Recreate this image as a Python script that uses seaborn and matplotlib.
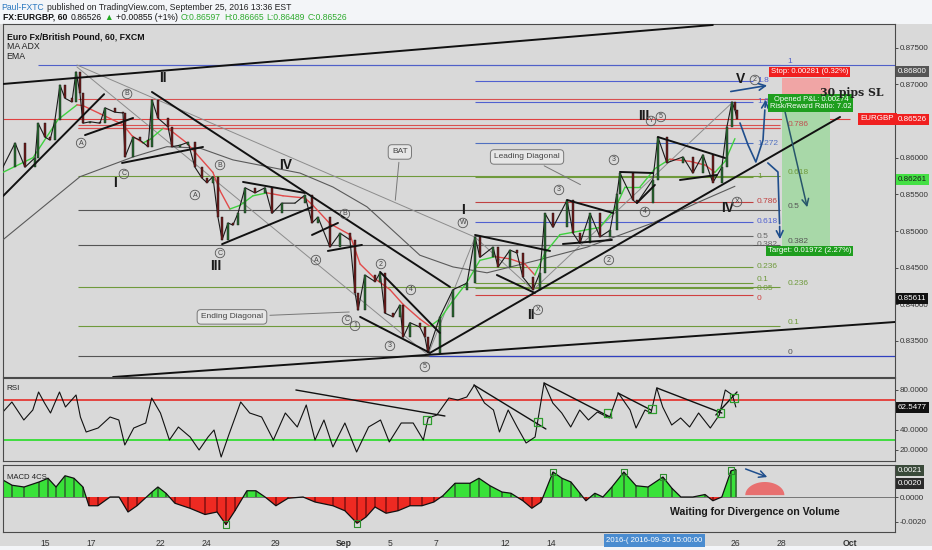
import matplotlib

matplotlib.use("Agg")

import matplotlib.pyplot as plt
import matplotlib.patches as mpatches
import matplotlib.ticker as mtick
import numpy as np
import pandas as pd
import seaborn as sns

price_day = [-1.83, -1.30, -0.87, -0.43, -0.30, 0.00, 0.22, 0.43, 0.65, 0.87, 1.17, 1.35, 1.52, 1.65, 1.96,
             2.39, 2.61, 3.04, 3.39, 3.48, 3.83, 4.13, 4.48, 4.65, 4.91, 5.35, 5.52, 5.87, 6.22, 6.52,
             6.83, 7.04, 7.30, 7.52, 7.70, 7.96, 8.17, 8.39, 8.70, 9.13, 9.57, 9.87, 10.30, 10.87, 11.30,
             11.61, 11.87, 12.39, 12.83, 13.26, 13.48, 13.61, 13.91, 14.35, 14.57, 14.78, 15.13, 15.43, 15.57,
             15.87, 16.30, 16.52, 16.65, 17.17, 17.74, 18.35, 18.70, 18.91, 19.48, 19.70, 20.22, 20.52, 20.78,
             21.22, 21.52, 21.74, 22.09, 22.70, 22.96, 23.26, 23.70, 24.13, 24.57, 24.87, 25.00, 25.57, 25.74,
             26.43, 26.65, 27.04, 27.74, 28.17, 28.61, 29.04, 29.43, 29.65, 29.87, 30.00, 30.09]
price_close = [0.8587, 0.8620, 0.8587, 0.8600, 0.8647, 0.8628, 0.8624, 0.8651, 0.8699, 0.8681, 0.8676, 0.8717,
               0.8688, 0.8647, 0.8649, 0.8647, 0.8668, 0.8662, 0.8661, 0.8601, 0.8628, 0.8624, 0.8615, 0.8679,
               0.8654, 0.8642, 0.8615, 0.8617, 0.8621, 0.8587, 0.8572, 0.8566, 0.8574, 0.8519, 0.8488, 0.8511,
               0.8508, 0.8524, 0.8559, 0.8552, 0.8559, 0.8524, 0.8538, 0.8538, 0.8549, 0.8511, 0.8519, 0.8478,
               0.8497, 0.8488, 0.8416, 0.8392, 0.8440, 0.8431, 0.8443, 0.8388, 0.8383, 0.8399, 0.8355, 0.8375,
               0.8369, 0.8355, 0.8334, 0.8383, 0.8420, 0.8429, 0.8492, 0.8464, 0.8478, 0.8451, 0.8474, 0.8470,
               0.8437, 0.8420, 0.8443, 0.8524, 0.8505, 0.8542, 0.8497, 0.8483, 0.8524, 0.8492, 0.8501, 0.8551,
               0.8579, 0.8542, 0.8538, 0.8570, 0.8628, 0.8593, 0.8601, 0.8579, 0.8604, 0.8566, 0.8587, 0.8642,
               0.8676, 0.8665, 0.8653]

ema_day = [-1.83, -0.52, 0.57, 1.39, 1.65, 2.39, 3.39, 3.78, 4.26, 4.57, 5.13, 5.43, 6.17, 7.30, 7.61, 8.04,
           8.48, 9.04, 9.65, 10.35, 11.30, 11.65, 12.39, 13.26, 13.70, 14.35, 15.00, 15.57, 16.30, 16.74,
           17.17, 17.74, 18.35, 18.91, 19.57, 20.22, 20.87, 21.30, 21.74, 22.39, 23.26, 24.13, 24.78, 25.22,
           25.87, 26.52, 27.17, 28.04, 28.70, 29.13, 29.57, 30.00]
ema_val = [0.8580, 0.8600, 0.8652, 0.8672, 0.8671, 0.8660, 0.8645, 0.8630, 0.8620, 0.8625, 0.8640, 0.8638,
           0.8620, 0.8580, 0.8555, 0.8530, 0.8535, 0.8548, 0.8552, 0.8548, 0.8545, 0.8535, 0.8510, 0.8495,
           0.8455, 0.8435, 0.8420, 0.8400, 0.8380, 0.8370, 0.8380, 0.8405, 0.8430, 0.8460, 0.8465, 0.8462,
           0.8455, 0.8440, 0.8470, 0.8495, 0.8500, 0.8505, 0.8530, 0.8560, 0.8560, 0.8585, 0.8598, 0.8595,
           0.8590, 0.8580, 0.8595, 0.8626]

ma_day = [-1.83, 1.52, 3.83, 5.30, 6.74, 8.17, 11.09, 12.52, 14.00, 15.43, 16.30, 17.74, 19.22, 21.39, 23.57,
          26.43, 28.61, 30.00]
ma_val = [0.8488, 0.8574, 0.8601, 0.8615, 0.8613, 0.8597, 0.8579, 0.8560, 0.8533, 0.8492, 0.8467, 0.8451,
          0.8443, 0.8460, 0.8478, 0.8511, 0.8542, 0.8561]

rsi_day = [-1.83, -1.44, -0.92, -0.53, -0.28, -0.02, 0.24, 0.63, 0.89, 1.35, 1.54, 1.79, 2.31, 2.83, 3.21,
           3.47, 3.86, 4.38, 4.64, 5.02, 5.41, 5.80, 6.31, 6.70, 7.09, 7.35, 7.66, 7.99, 8.51, 8.90, 9.42,
           9.93, 10.45, 10.97, 11.36, 11.74, 12.13, 12.52, 13.04, 13.55, 14.07, 14.59, 14.97, 15.49, 16.01,
           16.45, 16.66, 17.04, 17.56, 17.95, 18.34, 18.67, 19.11, 19.50, 19.76, 20.14, 20.53, 20.92, 21.31,
           21.70, 22.08, 22.47, 22.86, 23.25, 23.63, 24.02, 24.54, 24.93, 25.44, 25.70, 26.09, 26.35, 26.60,
           26.86, 27.25, 27.64, 28.03, 28.42, 28.93, 29.32, 29.58, 29.89, 30.04]
rsi_val = [58, 68, 50, 60, 78, 67, 57, 78, 63, 75, 53, 38, 42, 53, 50, 25, 42, 47, 72, 57, 30, 43, 33, 20, 33,
           40, 13, 35, 68, 57, 53, 30, 57, 43, 65, 30, 50, 23, 47, 18, 43, 50, 28, 47, 47, 30, 52, 55, 72, 70,
           73, 85, 67, 60, 38, 60, 43, 27, 33, 87, 67, 57, 43, 60, 50, 58, 52, 77, 60, 42, 60, 57, 82, 63, 45,
           52, 43, 57, 42, 55, 80, 75, 63]

# MACD histogram, in units of 1e-3
macd_day = [-1.83, -1.43, -0.91, -0.26, 0.13, 0.48, 0.87, 1.26, 1.65, 1.91, 2.30, 2.83, 3.22, 3.61, 4.00,
            4.65, 4.91, 5.26, 5.65, 6.30, 6.96, 7.48, 7.87, 8.26, 8.78, 9.17, 9.57, 10.04, 10.57, 11.22,
            11.74, 12.52, 13.04, 13.57, 13.96, 14.35, 14.83, 15.35, 15.87, 16.39, 16.91, 17.30, 17.83, 18.48,
            18.87, 19.35, 19.87, 20.26, 20.78, 21.17, 21.57, 22.09, 22.48, 22.87, 23.26, 23.52, 23.91, 24.26,
            24.65, 25.17, 25.70, 26.22, 26.87, 27.26, 27.65, 28.17, 28.70, 29.04, 29.43, 29.83, 30.04]
macd_val = [1.36, 0.94, 0.8, 1.2, 1.5, 0.8, 1.7, 1.5, 0.8, -0.7, -0.7, 0, 0, -1.2, -0.7, 0.4, 0.8, 0.3, -0.5,
            -0.9, -1.4, -1.2, -2.2, -1.1, 0.5, 0.5, 0, -0.7, -0.1, 0, -0.4, -0.7, -1.1, -2.1, -1.6, -0.8, -1.3,
            -1.1, -0.7, -0.7, -0.4, 0.1, 1.1, 1.1, 1.5, 0.9, 0.4, 0.3, -0.3, -0.9, -0.4, 2.0, 1.5, 1.2, 0.3,
            -0.3, 0.3, 0, 0.8, 2.0, 0.9, 0.8, 1.6, 0.7, 0, 0, 0.2, -0.3, 0, 2.1, 2.2]

xtick_days = [0, 2, 5, 7, 10, 13, 15, 17, 20, 22, 30, 32, 35]
xtick_labels = ["15", "17", "22", "24", "29", "Sep", "5", "7", "12", "14", "26", "28", "Oct"]

# Fibonacci retracement of the whole swing (labels on the right)
fib_big_levels = [0.8726, 0.8641, 0.8575, 0.8528, 0.8481, 0.8424, 0.8370, 0.8330]
fib_big_labels = ["1", "0.786", "0.618", "0.5", "0.382", "0.236", "0.1", "0"]
fib_big_colors = ["#5060c8", "#c05050", "#6f9a3c", "#555555", "#555555", "#6f9a3c", "#6f9a3c", "#555555"]

# Fibonacci extension of the leading diagonal
fib_ext_levels = [0.87046, 0.8676, 0.8620, 0.85737, 0.85396, 0.85123, 0.8493, 0.8481, 0.8451, 0.8429, 0.8422, 0.8413]
fib_ext_labels = ["1.8", "1.6", "1.272", "1", "0.786", "0.618", "0.5", "0.382", "0.236", "0.1", "0.05", "0"]
fib_ext_colors = ["#5060d0", "#5060d0", "#5070c0", "#6f9a3c", "#c04040", "#5060d0", "#666666", "#666666",
                  "#6f9a3c", "#6f9a3c", "#6f9a3c", "#d04040"]

# drawn trend lines: (day0, price0, day1, price1)
trend_lines = [
    (-1.83, 0.87005, 29.04, 0.87810), (2.96, 0.83009, 36.96, 0.83759), (-1.83, 0.85475, 2.57, 0.86866),
    (1.74, 0.86308, 3.83, 0.86541), (3.35, 0.85928, 6.87, 0.86146), (4.65, 0.86896, 17.61, 0.84237),
    (7.70, 0.84821, 11.61, 0.85326), (8.61, 0.85669, 11.30, 0.85519), (11.61, 0.84946, 12.74, 0.85110),
    (12.30, 0.84728, 13.78, 0.84810), (13.70, 0.83829, 16.74, 0.83338), (14.57, 0.84442, 17.17, 0.83610),
    (16.74, 0.83338, 34.57, 0.86555), (18.70, 0.84946, 21.96, 0.84728), (19.65, 0.84400, 21.30, 0.84155),
    (22.70, 0.85423, 24.70, 0.85246), (22.52, 0.84823, 24.65, 0.84878), (25.00, 0.85805, 26.43, 0.85791),
    (25.74, 0.85382, 26.52, 0.85628), (26.65, 0.86282, 29.57, 0.85996), (27.61, 0.85696, 29.22, 0.85764),
]
pattern_lines = [
    (1.39, 0.87264, 18.70, 0.84916), (1.39, 0.87237, 16.65, 0.83310), (16.65, 0.83310, 18.70, 0.84916),
    (18.70, 0.84916, 21.22, 0.84196), (21.22, 0.84196, 29.91, 0.86759),
]

wave_labels = [("II", 5.13, 0.87087), ("I", 3.04, 0.85655), ("III", 7.43, 0.84522), ("IV", 10.48, 0.85900),
               ("I", 18.17, 0.85290), ("II", 21.13, 0.83856), ("III", 26.04, 0.86569), ("IV", 29.70, 0.85315),
               ("V", 30.26, 0.87073)]
circle_labels = [("A", 1.57, 0.86200), ("B", 3.57, 0.86869), ("C", 3.43, 0.85778), ("B", 7.61, 0.85900),
                 ("A", 6.52, 0.85491), ("C", 7.61, 0.84700), ("A", 11.78, 0.84604), ("B", 13.04, 0.85232),
                 ("2", 14.61, 0.84550), ("4", 15.91, 0.84196), ("C", 13.13, 0.83788), ("1", 13.48, 0.83706),
                 ("3", 15.00, 0.83433), ("5", 16.52, 0.83146), ("W", 18.17, 0.85110), ("3", 22.35, 0.85560),
                 ("3", 24.74, 0.85969), ("2", 24.52, 0.84604), ("4", 26.09, 0.85260), ("Y", 26.35, 0.86501),
                 ("5", 26.78, 0.86555), ("X", 21.43, 0.83924), ("X", 30.09, 0.85396), ("2", 30.87, 0.87060)]

XMIN, XMAX = -1.826, 36.96
GRID_BG = "#d9d9d9"

sns.set_theme(style="white")
plt.rcParams["font.family"] = ["Liberation Sans", "DejaVu Sans"]

fig = plt.figure(figsize=(9.32, 5.50), dpi=100, facecolor="#f3f5f8")
fig.patches.append(mpatches.Rectangle((0, 4 / 550), 1, 522 / 550, transform=fig.transFigure,
                                      facecolor=GRID_BG, edgecolor="none", zorder=-10))

ax = fig.add_axes([3 / 932, 1 - 377 / 550, 892 / 932, 353 / 550])
ax_rsi = fig.add_axes([3 / 932, 1 - 461 / 550, 892 / 932, 83 / 550])
ax_macd = fig.add_axes([3 / 932, 1 - 532 / 550, 892 / 932, 67 / 550])

for a in (ax, ax_rsi, ax_macd):
    a.set_facecolor(GRID_BG)
    a.set_xlim(XMIN, XMAX)
    for s in a.spines.values():
        s.set_color("#4a4a4a")
        s.set_linewidth(0.8)
    a.yaxis.tick_right()
    a.tick_params(axis="y", labelsize=5.8, colors="#333333", length=2, width=0.6, pad=1.5)
    a.set_xticks(xtick_days)
    a.tick_params(axis="x", length=0, labelbottom=False)

# ---------------- main price panel ----------------
ax.set_ylim(0.83009, 0.87823)
ax.set_yticks([0.835, 0.840, 0.845, 0.850, 0.855, 0.860, 0.870, 0.875])
ax.yaxis.set_major_formatter(mtick.FormatStrFormatter("%.5f"))

for lvl, col in zip(fib_big_levels, fib_big_colors):
    ax.hlines(lvl, 1.43, 31.96, color=col, lw=0.8, zorder=1)
ax.hlines(0.8330, 16.7, XMAX, color="#3040c0", lw=0.9, zorder=1)
ax.hlines(0.8726, -0.3, XMAX, color="#5060c8", lw=0.8, zorder=1)
for lvl in [0.8680, 0.8645, 0.8640]:
    ax.hlines(lvl, 1.43, 31.96, color="#d85050", lw=0.8, zorder=1)
ax.hlines(price_close[-1], XMIN, 35.0, color="#e04040", lw=0.8, zorder=1)
for lvl, lab, col in zip(fib_big_levels, fib_big_labels, fib_big_colors):
    ax.text(32.3, lvl, lab, fontsize=6, color=col, va="bottom", ha="left", zorder=6)

for lvl, col in zip(fib_ext_levels, fib_ext_colors):
    ax.hlines(lvl, 18.7, 30.78, color=col, lw=0.8, zorder=1)
ext_va = {"0.1": "bottom", "0.05": "center", "0": "top"}
for lvl, lab, col in zip(fib_ext_levels, fib_ext_labels, fib_ext_colors):
    ax.text(30.96, lvl, lab, fontsize=6, color=col, va=ext_va.get(lab, "center"), ha="left", zorder=6)

for d0, p0, d1, p1 in pattern_lines:
    ax.plot([d0, d1], [p0, p1], color="#8c8c8c", lw=0.7, zorder=2)

# position tool
ax.add_patch(mpatches.Rectangle((32.04, 0.86814), 2.09, 0.00273, facecolor="#f0a5a5", edgecolor="none", zorder=1))
ax.add_patch(mpatches.Rectangle((32.04, 0.84782), 2.09, 0.02032, facecolor="#a8d8a8", edgecolor="none", zorder=1))

# moving averages
ma_df = pd.DataFrame({"day": ma_day, "ma": ma_val})
sns.lineplot(data=ma_df, x="day", y="ma", color="#5a5a5a", lw=0.8, ax=ax, zorder=3)
for i in range(1, len(ema_day)):
    col = "#3fd13f" if ema_val[i] >= ema_val[i - 1] else "#e24a4a"
    ax.plot(ema_day[i - 1:i + 1], ema_val[i - 1:i + 1], color=col, lw=1.0, zorder=4)

# candles
px = pd.DataFrame({"day": price_day, "close": price_close})
px["open"] = px["close"].shift(1).fillna(px["close"])
up = px["close"] >= px["open"]
sns.lineplot(data=px, x="day", y="close", color="#1a1a1a", lw=0.8, ax=ax, zorder=5)
ax.bar(px["day"][up], (px["close"] - px["open"])[up], bottom=px["open"][up], width=0.11,
       color="#2a6a32", edgecolor="#101810", linewidth=0.3, zorder=5)
ax.bar(px["day"][~up], (px["close"] - px["open"])[~up], bottom=px["open"][~up], width=0.11,
       color="#6e1c1c", edgecolor="#180e0e", linewidth=0.3, zorder=5)

for d0, p0, d1, p1 in trend_lines:
    ax.plot([d0, d1], [p0, p1], color="#111111", lw=1.4, zorder=6, solid_capstyle="round")

for lab, d, p in wave_labels:
    ax.text(d, p, lab, fontsize=10, fontweight="bold", color="#1a1a1a",
            ha="center", va="center", zorder=8)
for lab, d, p in circle_labels:
    ax.text(d, p, lab, fontsize=5, color="#444444", ha="center", va="center", zorder=8,
            bbox=dict(boxstyle="circle,pad=0.18", fc="none", ec="#555555", lw=0.6))

callout_box = dict(boxstyle="round,pad=0.45", fc="#e6e6e6", ec="#777777", lw=0.7)
ax.annotate("BAT", xy=(15.22, 0.85382), xytext=(15.43, 0.86078), fontsize=6, color="#444444",
            ha="center", va="center", bbox=callout_box,
            arrowprops=dict(arrowstyle="-", color="#777777", lw=0.7), zorder=8)
ax.annotate("Ending Diagonal", xy=(13.35, 0.83897), xytext=(8.13, 0.83829), fontsize=6, color="#444444",
            ha="center", va="center", bbox=callout_box,
            arrowprops=dict(arrowstyle="-", color="#777777", lw=0.7), zorder=8)
ax.annotate("Leading Diagonal", xy=(23.39, 0.85615), xytext=(20.96, 0.86010), fontsize=6, color="#444444",
            ha="center", va="center", bbox=callout_box,
            arrowprops=dict(arrowstyle="-", color="#777777", lw=0.7), zorder=8)

# projection arrows
arrow_blue = "#1f4e8c"
ax.annotate("", xy=(31.52, 0.86991), xytext=(29.70, 0.86896),
            arrowprops=dict(arrowstyle="->", color=arrow_blue, lw=1.2), zorder=8)
curve_d = [30.22, 30.57, 30.91, 31.22, 31.30]
curve_p = [0.86473, 0.86173, 0.85941, 0.86241, 0.86650]
ax.plot(curve_d, curve_p, color=arrow_blue, lw=1.2, zorder=8)
ax.annotate("", xy=(31.35, 0.86828), xytext=(31.30, 0.86650),
            arrowprops=dict(arrowstyle="->", color=arrow_blue, lw=1.2), zorder=8)
ax.plot([31.43, 31.87, 31.94], [0.85928, 0.85805, 0.8510], color=arrow_blue, lw=1.2, zorder=8)
ax.annotate("", xy=(31.96, 0.84850), xytext=(31.94, 0.8510),
            arrowprops=dict(arrowstyle="->", color=arrow_blue, lw=1.2), zorder=8)
ax.annotate("", xy=(33.17, 0.85287), xytext=(32.09, 0.86746),
            arrowprops=dict(arrowstyle="->", color="#27566b", lw=1.1), zorder=8)

ax.text(33.25, 0.87169, "Stop: 0.00281 (0.32%)", fontsize=5.6, color="white", ha="center", va="center",
        bbox=dict(boxstyle="square,pad=0.25", fc="#f02020", ec="none"), zorder=9)
ax.text(33.3, 0.86746, "Opened P&L: 0.00274\nRisk/Reward Ratio: 7.02", fontsize=5.4, color="white",
        ha="center", va="center", linespacing=0.95,
        bbox=dict(boxstyle="square,pad=0.25", fc="#1e9e1e", ec="none"), zorder=9)
ax.text(33.25, 0.84728, "Target: 0.01972 (2.27%)", fontsize=5.6, color="white", ha="center", va="center",
        bbox=dict(boxstyle="square,pad=0.25", fc="#1e9e1e", ec="none"), zorder=9)
ax.text(35.1, 0.86895, "30 pips SL", fontsize=7.8, fontweight="bold", family=["DejaVu Serif"],
        color="#222222", ha="center", va="center", zorder=9)
ax.text(36.2, price_close[-1], "EURGBP", fontsize=5.8, color="white", ha="center", va="center",
        bbox=dict(boxstyle="square,pad=0.3", fc="#f02020", ec="none"), zorder=9)

ax.text(0.004, 0.975, "Euro Fx/British Pound, 60, FXCM", transform=ax.transAxes, fontsize=6.3,
        fontweight="bold", color="#111111", va="top")
ax.text(0.004, 0.948, "MA ADX", transform=ax.transAxes, fontsize=6.3, color="#222222", va="top")
ax.text(0.004, 0.921, "EMA", transform=ax.transAxes, fontsize=6.3, color="#222222", va="top")


def axis_tag(a, y, text, fc, tc="white"):
    a.text(1.003, y, text, transform=a.get_yaxis_transform(), fontsize=5.8, color=tc, ha="left",
           va="center", clip_on=False, zorder=10,
           bbox=dict(boxstyle="square,pad=0.25", fc=fc, ec="none"))


axis_tag(ax, 0.86526, "0.86526", "#f02020")
axis_tag(ax, 0.87169, "0.86800", "#555555")
axis_tag(ax, 0.85696, "0.86261", "#44e044", "#1a1a1a")
axis_tag(ax, 0.84073, "0.85611", "#111111")

# ---------------- RSI ----------------
ax_rsi.set_ylim(9, 92)
ax_rsi.set_yticks([20, 40, 80])
ax_rsi.yaxis.set_major_formatter(mtick.FormatStrFormatter("%.4f"))
ax_rsi.axhline(70, color="#e53935", lw=1.3)
ax_rsi.axhline(30, color="#33dd33", lw=1.3)
rsi_df = pd.DataFrame({"day": rsi_day, "rsi": rsi_val})
sns.lineplot(data=rsi_df, x="day", y="rsi", color="#111111", lw=0.8, ax=ax_rsi)
rsi_lines = [(10.91, 80, 17.39, 54), (18.65, 85, 21.78, 41), (21.70, 87, 24.65, 52), (24.91, 77, 26.35, 60),
             (26.61, 82, 29.43, 57), (29.17, 55, 30.09, 78)]
for d0, v0, d1, v1 in rsi_lines:
    ax_rsi.plot([d0, d1], [v0, v1], color="#111111", lw=1.0)
rsi_sq_day = [16.6, 21.43, 24.46, 26.4, 29.37, 29.97]
rsi_sq_val = [50, 48, 57, 61, 57, 72]
ax_rsi.scatter(rsi_sq_day, rsi_sq_val, marker="s", s=30, facecolors="none", edgecolors="#2e9e2e", lw=0.9, zorder=5)
ax_rsi.set_xlabel("")
ax_rsi.set_ylabel("")
ax_rsi.text(0.004, 0.92, "RSI", transform=ax_rsi.transAxes, fontsize=5.8, color="#222222", va="top")
axis_tag(ax_rsi, 62.5477, "62.5477", "#111111")

# ---------------- MACD ----------------
ax_macd.set_ylim(-2.8, 2.56)
ax_macd.set_yticks([-2, 0])
ax_macd.yaxis.set_major_formatter(mtick.FuncFormatter(lambda v, _: f"{v / 1000:.4f}"))
md = np.array(macd_day)
mv = np.array(macd_val, dtype=float)
ax_macd.fill_between(md, 0, mv, where=mv >= 0, interpolate=True, color="#39e239", lw=0)
ax_macd.fill_between(md, 0, mv, where=mv <= 0, interpolate=True, color="#ee2a22", lw=0)
ax_macd.vlines(md[mv > 0], 0, mv[mv > 0], color="#2f6a2f", lw=1.2)
ax_macd.vlines(md[mv < 0], 0, mv[mv < 0], color="#8a1212", lw=1.2)
macd_df = pd.DataFrame({"day": macd_day, "macd": macd_val})
sns.lineplot(data=macd_df, x="day", y="macd", color="#111111", lw=0.9, ax=ax_macd)
ax_macd.axhline(0, color="#666666", lw=0.6, zorder=0)
sq = [i for i, v in enumerate(macd_val) if v in (-2.2, -2.1, 2.0, 1.6, 2.1)]
ax_macd.scatter(md[sq], mv[sq], marker="s", s=22, facecolors="none", edgecolors="#2e8e2e", lw=0.8, zorder=5)
ax_macd.set_xlabel("")
ax_macd.set_ylabel("")

t = np.linspace(0, np.pi, 40)
ax_macd.fill(31.3 + 0.85 * np.cos(t), 0.15 + 1.05 * np.sin(t), color="#e87070", lw=0)
ax_macd.annotate("", xy=(31.52, 1.52), xytext=(30.35, 2.32),
                 arrowprops=dict(arrowstyle="->", color=arrow_blue, lw=1.1))
ax_macd.text(30.87, -1.2, "Waiting for Divergence on Volume", fontsize=7.6, fontweight="bold",
             color="#1a1a1a", ha="center", va="center")
ax_macd.text(0.004, 0.86, "MACD 4CS", transform=ax_macd.transAxes, fontsize=5.6, color="#222222", va="top")
axis_tag(ax_macd, 2.1, "0.0021", "#3a4a3a")
axis_tag(ax_macd, 1.05, "0.0020", "#2a2a2a")

ax_macd.set_xticklabels(xtick_labels)
ax_macd.tick_params(axis="x", labelbottom=True, labelsize=6.2, colors="#333333", length=3, width=0.6, pad=2)
for lab in ax_macd.get_xticklabels():
    if lab.get_text() in ("Sep", "Oct"):
        lab.set_fontweight("bold")
ax_macd.text(26.5, -0.13, "2016-( 2016-09-30 15:00:00", transform=ax_macd.get_xaxis_transform(),
             fontsize=5.6, color="white", ha="center", va="center", clip_on=False,
             bbox=dict(boxstyle="square,pad=0.35", fc="#4a8cd0", ec="none"))

# ---------------- header (pieces laid out one after another) ----------------
renderer = fig.canvas.get_renderer()


def header_line(y_px, pieces, x0=3):
    x = x0 / 932
    for txt, col, bold in pieces:
        t_obj = fig.text(x, 1 - y_px / 550, txt, fontsize=6.2, color=col, va="center",
                         fontweight="bold" if bold else "normal")
        w = t_obj.get_window_extent(renderer=renderer).width
        x += (w + 3) / 932


header_line(7, [("Paul-FXTC", "#2a78c0", False),
                ("published on TradingView.com, September 25, 2016 13:36 EST", "#222222", False)], x0=1)
header_line(17, [("FX:EURGBP, 60", "#111111", True), ("0.86526", "#111111", False),
                 ("\u25b2", "#22aa22", False), ("+0.00855 (+1%)", "#111111", False),
                 ("O:0.86597", "#2eaa2e", False), ("H:0.86665", "#2eaa2e", False),
                 ("L:0.86489", "#2eaa2e", False), ("C:0.86526", "#2eaa2e", False)])

fig.savefig("out.png", dpi=100, facecolor=fig.get_facecolor())
